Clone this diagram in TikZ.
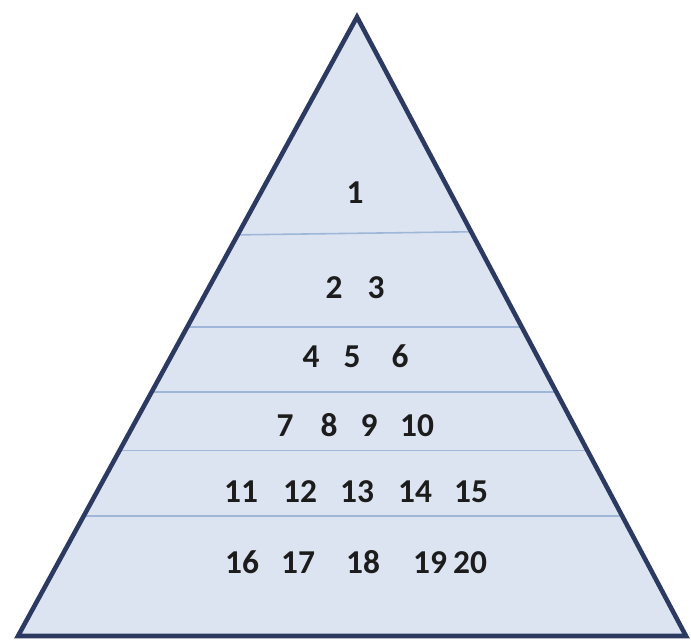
\documentclass[tikz,border=0pt]{standalone}
\usepackage{fontspec}
\newfontfamily\numfont{Carlito}
\definecolor{pyrFill}{RGB}{221,228,241}
\definecolor{pyrEdge}{RGB}{44,58,98}
\definecolor{bandLine}{RGB}{158,182,216}
\definecolor{numInk}{RGB}{28,28,28}
\usepackage{tikz}
\usetikzlibrary{calc}

\begin{document}
\begin{tikzpicture}[
        x=0.02cm, y=-0.02cm,
        num/.style={inner sep=0pt, text height=12pt, text depth=0pt, text=numInk,
          font=\numfont\bfseries\fontsize{19}{21}\selectfont},
        band/.style={bandLine, line width=0.9pt}
      ]
        \useasboundingbox (0,0) rectangle (691,641);
        % Corners of the pyramid
        \coordinate (apex) at (357,17);
        \coordinate (bl) at (18,636);
        \coordinate (br) at (686,636);
        \fill[pyrFill] (apex) -- (bl) -- (br) -- cycle;
        % Band lines (edge to edge)
        \draw[band] ($(apex)!0.352!(bl)$) -- ($(apex)!0.347!(br)$);
        \draw[band] ($(apex)!0.501!(bl)$) -- ($(apex)!0.501!(br)$);
        \draw[band] ($(apex)!0.606!(bl)$) -- ($(apex)!0.606!(br)$);
        \draw[band] ($(apex)!0.700!(bl)$) -- ($(apex)!0.700!(br)$);
        \draw[band] ($(apex)!0.806!(bl)$) -- ($(apex)!0.806!(br)$);
        % Outline
        \draw[pyrEdge, line width=2.6pt, line join=miter] (apex) -- (bl) -- (br) -- cycle;
        % Row 1
        \node[num] (n1) at (355,193) {1};
        % Row 2
        \node[num] (n2) at (334,288) {2};
        \node[num] (n3) at (376,288) {3};
        % Row 3
        \node[num] (n4) at (311,357) {4};
        \node[num] (n5) at (352,357) {5};
        \node[num] (n6) at (400,357) {6};
        % Row 4
        \node[num] (n7) at (285,426) {7};
        \node[num] (n8) at (329,426) {8};
        \node[num] (n9) at (369,426) {9};
        \node[num] (n10) at (417,426) {10};
        % Row 5
        \node[num] (n11) at (241,492) {11};
        \node[num] (n12) at (300,492) {12};
        \node[num] (n13) at (357,492) {13};
        \node[num] (n14) at (415,492) {14};
        \node[num] (n15) at (471,492) {15};
        % Row 6
        \node[num] (n16) at (242,563) {16};
        \node[num] (n17) at (298,563) {17};
        \node[num] (n18) at (363,563) {18};
        \node[num] (n19) at (430,563) {19};
        \node[num] (n20) at (470,563) {20};
      \end{tikzpicture}
\end{document}
